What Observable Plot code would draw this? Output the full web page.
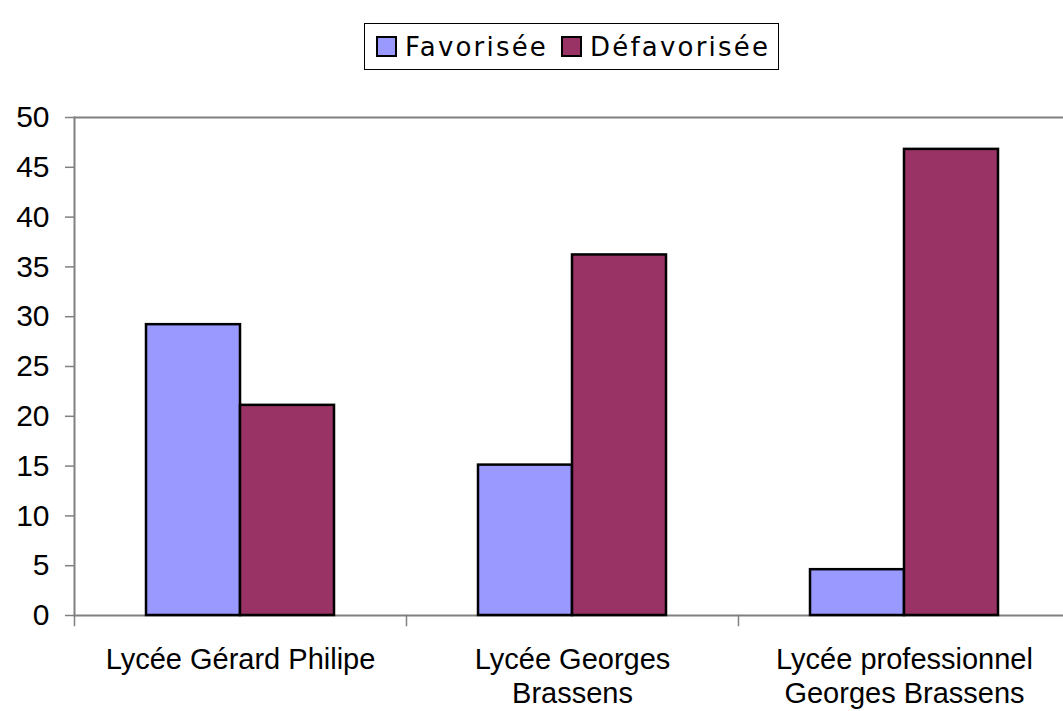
<!DOCTYPE html>
<html><head><meta charset="utf-8">
<script src="https://cdn.jsdelivr.net/npm/d3@7"></script>
<script src="https://cdn.jsdelivr.net/npm/@observablehq/plot@0.6"></script>
<style>
html,body{margin:0;background:#fff;overflow:hidden;}
#legend-wrap{position:relative;height:100px;width:1063px;}
#legend{position:absolute;left:364px;top:23px;width:415px;height:47px;border:1px solid #000;display:flex;align-items:center;justify-content:flex-start;padding-left:11px;box-sizing:border-box;font-family:"DejaVu Sans",sans-serif;font-size:26px;letter-spacing:2.2px;color:#000;}
.sw{width:17px;height:17px;border:2px solid #000;display:inline-block;margin-right:8px;}
.item{display:flex;align-items:center;margin-right:13px;}
#chart{width:1063px;overflow:hidden;}
</style></head>
<body>
<div id="legend-wrap"><div id="legend"></div></div>
<div id="chart"></div>
<script>
const categories = ["Lycée Gérard Philipe", "Lycée Georges Brassens", "Lycée professionnel Georges Brassens"];
const categoryLabels = ["Lycée Gérard Philipe", "Lycée Georges\nBrassens", "Lycée professionnel\nGeorges Brassens"];
const series = ["Favorisée", "Défavorisée"];
const favorisee = [29.2, 15.1, 4.6];
const defavorisee = [21.1, 36.2, 46.8];
const colors = ["#9999FF", "#993366"];
const yTicks = [0, 5, 10, 15, 20, 25, 30, 35, 40, 45, 50];

const data = categories.flatMap((c, i) => [
  {cat: c, s: series[0], v: favorisee[i]},
  {cat: c, s: series[1], v: defavorisee[i]}
]);

const legend = document.getElementById("legend");
series.forEach((s, i) => {
  const it = document.createElement("span");
  it.className = "item";
  const sw = document.createElement("span");
  sw.className = "sw";
  sw.style.background = colors[i];
  it.appendChild(sw);
  it.appendChild(document.createTextNode(s));
  legend.appendChild(it);
});

const chart = Plot.plot({
  width: 1071,
  height: 611,
  marginTop: 17,
  marginBottom: 96,
  marginLeft: 73,
  marginRight: 0,
  style: {fontFamily: "'Liberation Sans', Arial, sans-serif", color: "#000", background: "#fff", overflow: "visible", maxWidth: "none"},
  fx: {domain: categories, padding: 0, axis: null, label: null},
  x: {domain: series, paddingInner: 0, paddingOuter: 0.751, axis: null, label: null},
  y: {domain: [0, 50], axis: null, label: null},
  color: {domain: series, range: colors},
  marks: [
    Plot.ruleY([50], {stroke: "#808080", strokeWidth: 2}),
    Plot.ruleY([0], {stroke: "#808080", strokeWidth: 2}),
    Plot.frame({anchor: "left", stroke: "#808080", strokeWidth: 1.5, insetTop: 498, insetBottom: -10}),
    Plot.frame({anchor: "left", facet: "super", stroke: "#808080", strokeWidth: 2}),
    Plot.barY(data, {fx: "cat", x: "s", y: "v", fill: "s", stroke: "#000", strokeWidth: 2.5}),
    Plot.axisY({ticks: yTicks, tickSize: 9, tickPadding: 16, fontSize: 30, stroke: "#808080", strokeWidth: 1.5, fill: "#000", label: null}),
    Plot.axisFx({anchor: "bottom", tickFormat: d => categoryLabels[categories.indexOf(d)], tickSize: 0, tickPadding: 30, fontSize: 29, lineHeight: 1.16, fill: "#000", label: null})
  ]
});
document.getElementById("chart").appendChild(chart);
</script>
</body></html>
